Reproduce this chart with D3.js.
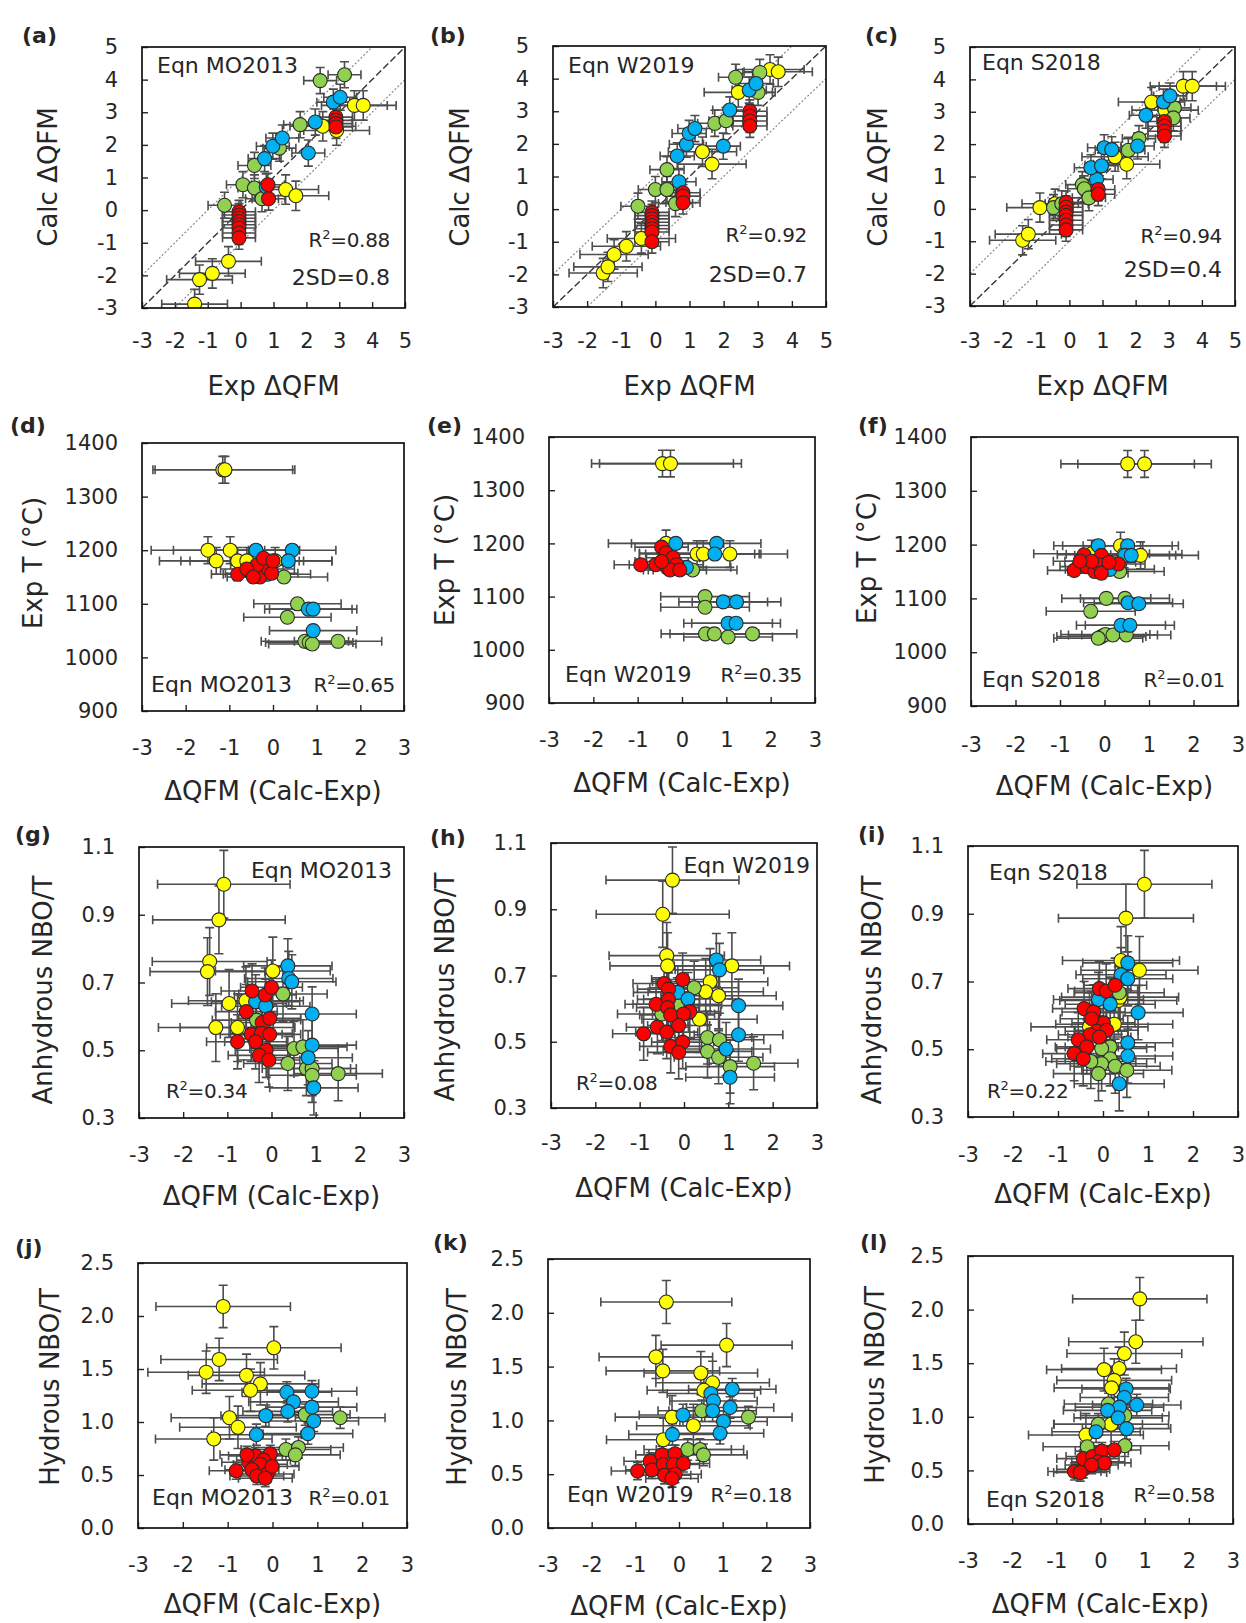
<!DOCTYPE html>
<html><head><meta charset="utf-8">
<script src="https://cdn.jsdelivr.net/npm/d3@7"></script>
<style>
body{margin:0;background:#fff}
svg text{font-family:"DejaVu Sans",sans-serif;fill:#262626}
</style>
</head><body>
<svg id="fig" width="1246" height="1623"></svg>
<script>
// ---------------- DATA ----------------
// each point: [x, y, optional x-error]
// groups: Y = yellow, G = green, B = blue, R = red
const A_Y = [[-1.4,-2.88],[-1.25,-2.13],[-0.86,-1.94],[-0.37,-1.57],[1.37,0.63],[1.68,0.44],[2.5,2.57],[2.92,2.44],[3.46,3.21],[3.73,3.21]];
const A_G = [[-0.49,0.15],[0.07,0.78],[0.42,0.68],[0.65,0.35],[0.42,1.37],[1.18,1.9],[1.81,2.62],[2.42,3.97],[3.16,4.15]];
const A_B = [[0.78,0.71],[0.73,1.58],[0.98,1.96],[1.27,2.21],[2.06,1.75],[2.27,2.7],[2.82,3.31],[3.03,3.46]];
const A_R = [[-0.05,-0.05],[-0.05,-0.15],[-0.05,-0.25],[-0.05,-0.35],[-0.05,-0.45],[-0.05,-0.55],[-0.05,-0.7],[-0.05,-0.85],[0.83,0.78],[0.85,0.35],[2.9,2.85],[2.9,2.75],[2.9,2.65],[2.9,2.55]];

const B_Y = [[-1.53,-1.96],[-1.39,-1.77],[-1.21,-1.39],[-0.85,-1.14],[-0.41,-0.9],[1.38,1.76],[1.66,1.38],[2.43,3.58],[3.36,4.28],[3.6,4.21]];
const B_G = [[-0.51,0.09],[0.0,0.6],[0.34,0.6],[0.34,1.21],[0.59,0.17],[1.74,2.63],[2.07,2.71],[2.35,4.04],[3.06,4.19],[3.01,3.58]];
const B_B = [[0.69,0.84],[0.64,1.63],[0.91,1.99],[0.99,2.32],[1.16,2.47],[1.99,1.93],[2.18,3.04],[2.75,3.65],[2.95,3.85]];
const B_R = [[-0.1,-0.1],[-0.1,-0.2],[-0.1,-0.3],[-0.1,-0.4],[-0.1,-0.5],[-0.1,-0.6],[-0.1,-0.7],[-0.1,-1.0],[0.81,0.5],[0.81,0.4],[0.81,0.2],[2.77,3.0],[2.77,2.85],[2.77,2.7],[2.77,2.55]];

const C_Y = [[-1.41,-0.97],[-1.24,-0.78],[-0.89,0.04],[-0.43,0.16],[1.38,1.61],[1.73,1.38],[2.48,3.3],[2.89,3.05],[3.44,3.79],[3.71,3.79]];
const C_G = [[-0.48,0.04],[-0.23,0.16],[0.39,0.75],[0.45,0.62],[0.59,0.34],[1.78,1.81],[2.1,2.17],[3.17,3.12],[3.14,2.81]];
const C_B = [[0.82,0.91],[0.65,1.27],[0.97,1.33],[1.05,1.89],[1.28,1.83],[2.06,1.94],[2.31,2.89],[2.84,3.3],[3.04,3.49]];
const C_R = [[-0.1,0.2],[-0.1,0.05],[-0.1,-0.1],[-0.1,-0.2],[-0.1,-0.35],[-0.1,-0.5],[-0.1,-0.65],[0.87,0.6],[0.87,0.45],[2.87,2.7],[2.87,2.55],[2.87,2.4],[2.87,2.25]];

const D_Y = [[-1.15,1350,1.6],[-1.1,1350,1.6],[-1.49,1200],[-0.98,1200],[-1.3,1180],[-0.81,1180],[-0.6,1180],[0.05,1180]];
const D_G = [[0.25,1150],[0.56,1100],[0.33,1075],[0.73,1030],[0.83,1028],[0.9,1025],[1.49,1030]];
const D_B = [[-0.39,1200],[0.44,1200],[0.35,1180],[-0.14,1155],[0.81,1090],[0.92,1090],[0.92,1050]];
const D_R = [[-0.81,1155],[-0.49,1157],[-0.3,1150],[-0.14,1180],[-0.11,1165],[-0.37,1172],[-0.6,1165],[-0.22,1185],[-0.03,1157],[-0.45,1150],[0.0,1180]];

const E_Y = [[-0.44,1350,1.6],[-0.26,1350,1.6],[-0.36,1200],[0.34,1180],[0.48,1180],[1.08,1180]];
const E_G = [[0.24,1150],[0.52,1100],[0.52,1080],[0.53,1030],[0.73,1030],[1.04,1024],[1.59,1030]];
const E_B = [[-0.14,1200],[0.78,1200],[0.74,1180],[0.1,1155],[0.93,1090],[1.23,1090],[1.04,1050],[1.22,1050]];
const E_R = [[-0.93,1160],[-0.59,1160],[-0.33,1154],[-0.46,1193],[-0.36,1182],[-0.2,1173],[-0.12,1160],[-0.27,1150],[-0.46,1166],[-0.05,1150]];

const F_Y = [[0.52,1350,1.5],[0.9,1350,1.5],[0.36,1198],[0.44,1182],[0.81,1180],[-0.29,1183]];
const F_G = [[0.34,1150],[0.04,1100],[0.46,1100],[-0.31,1076],[-0.07,1029],[0.02,1033],[0.19,1032],[0.49,1032],[-0.14,1026]];
const F_B = [[-0.14,1198],[0.52,1198],[0.46,1180],[0.6,1180],[0.12,1154],[0.53,1092],[0.77,1090],[0.37,1050],[0.57,1050]];
const F_R = [[-0.68,1152],[-0.46,1181],[-0.4,1159],[-0.22,1150],[-0.07,1180],[-0.11,1162],[-0.29,1169],[-0.55,1169],[0.31,1164],[-0.07,1147],[0.1,1167]];

const G_Y = [[-1.08,0.99,1.5],[-1.19,0.885,1.5],[-1.4,0.762],[-1.45,0.732],[0.03,0.734],[-0.96,0.638],[-0.58,0.646],[-1.26,0.567],[-0.77,0.567]];
const G_G = [[0.26,0.666],[0.51,0.505],[0.71,0.51],[0.37,0.461],[0.79,0.446],[0.92,0.446],[0.92,0.426],[1.51,0.431],[-0.34,0.589]];
const G_B = [[0.37,0.749],[0.39,0.712],[0.46,0.702],[-0.36,0.643],[-0.13,0.63],[0.92,0.607],[0.92,0.515],[0.83,0.478],[0.96,0.389]];
const G_R = [[-0.44,0.675],[-0.14,0.663],[0.0,0.686],[-0.57,0.614],[-0.21,0.582],[-0.04,0.594],[-0.46,0.547],[-0.23,0.55],[-0.04,0.547],[-0.77,0.525],[-0.36,0.525],[-0.12,0.5],[-0.28,0.485],[-0.06,0.471]];

const H_Y = [[-0.26,0.988,1.5],[-0.48,0.885,1.5],[-0.39,0.76],[-0.37,0.729],[1.08,0.729],[0.59,0.681],[0.49,0.651],[0.78,0.639],[0.35,0.568]];
const H_G = [[0.23,0.663],[-0.15,0.613],[-0.5,0.584],[0.53,0.513],[0.8,0.506],[0.53,0.471],[0.78,0.453],[1.04,0.425],[1.57,0.435]];
const H_B = [[0.73,0.747],[0.8,0.717],[-0.14,0.649],[0.09,0.629],[1.23,0.609],[1.23,0.521],[0.95,0.478],[1.04,0.393]];
const H_R = [[-0.91,0.524],[-0.63,0.613],[-0.45,0.676],[-0.35,0.659],[-0.35,0.628],[-0.37,0.603],[-0.3,0.581],[-0.03,0.688],[0.13,0.591],[-0.01,0.584],[-0.6,0.544],[-0.39,0.529],[-0.12,0.549],[-0.3,0.486],[-0.03,0.499],[-0.12,0.468]];

const I_Y = [[0.92,0.987,1.5],[0.51,0.887,1.5],[0.4,0.762],[0.81,0.733],[0.34,0.644],[0.38,0.654],[0.25,0.574],[-0.3,0.566]];
const I_G = [[0.36,0.667],[0.16,0.507],[-0.03,0.502],[0.16,0.472],[-0.03,0.457],[0.27,0.45],[0.53,0.438],[-0.1,0.428],[-0.27,0.464]];
const I_B = [[0.55,0.755],[0.4,0.72],[0.55,0.708],[-0.1,0.647],[0.16,0.633],[0.78,0.608],[0.55,0.519],[0.55,0.48],[0.36,0.398]];
const I_R = [[-0.08,0.679],[0.07,0.672],[0.27,0.689],[-0.42,0.62],[-0.21,0.61],[0.01,0.578],[-0.25,0.59],[-0.14,0.553],[0.08,0.556],[-0.29,0.543],[-0.55,0.528],[-0.08,0.536],[-0.36,0.507],[-0.64,0.487],[-0.44,0.472]];

const J_Y = [[-1.1,2.09,1.5],[0.03,1.7,1.5],[-1.19,1.59],[-1.48,1.47],[-0.58,1.44],[-0.27,1.36],[-0.49,1.3],[-0.96,1.04],[-0.77,0.95],[-1.31,0.84]];
const J_G = [[0.73,1.07],[1.51,1.04],[0.3,0.74],[0.58,0.76],[0.51,0.69]];
const J_B = [[0.32,1.28],[0.47,1.19],[0.88,1.29],[0.88,1.14],[0.34,1.1],[0.92,1.01],[-0.15,1.06],[0.79,0.89],[-0.36,0.88]];
const J_R = [[-0.81,0.54],[-0.53,0.62],[-0.38,0.68],[-0.05,0.7],[-0.2,0.64],[-0.27,0.6],[-0.46,0.55],[-0.12,0.51],[-0.35,0.49],[-0.01,0.58],[-0.16,0.47],[-0.57,0.69]];

const K_Y = [[-0.29,2.1,1.5],[1.09,1.7,1.5],[-0.53,1.59],[-0.37,1.46],[0.5,1.44],[0.77,1.35],[0.57,1.28],[-0.16,1.03],[0.33,0.95],[-0.36,0.82]];
const K_G = [[0.52,1.09],[1.59,1.03],[0.2,0.73],[0.48,0.73],[0.56,0.68]];
const K_B = [[0.73,1.25],[1.22,1.29],[0.79,1.18],[0.77,1.09],[1.17,1.12],[0.09,1.05],[1.02,0.99],[0.94,0.88],[-0.15,0.87]];
const K_R = [[-0.95,0.53],[-0.66,0.62],[-0.62,0.54],[-0.39,0.68],[-0.09,0.69],[-0.36,0.59],[-0.13,0.59],[0.1,0.6],[-0.33,0.49],[-0.09,0.5],[-0.16,0.46]];

const L_Y = [[0.89,2.1,1.52],[0.8,1.7,1.52],[0.54,1.59],[0.08,1.44],[0.42,1.45],[0.31,1.34],[0.25,1.27],[0.24,0.93],[-0.33,0.83]];
const L_G = [[0.18,1.12],[-0.05,0.93],[0.55,1.01],[-0.3,0.72],[0.55,0.73]];
const L_B = [[0.58,1.26],[0.54,1.18],[0.82,1.11],[0.43,1.09],[0.16,1.06],[0.4,0.99],[0.59,0.89],[-0.1,0.86]];
const L_R = [[-0.59,0.49],[-0.39,0.51],[-0.39,0.61],[-0.18,0.63],[0.03,0.68],[0.31,0.69],[-0.05,0.58],[0.09,0.57],[-0.2,0.55],[-0.46,0.48]];

// default [x-error, y-error] per group (Y, G, B, R) for each row of panels
const ERR_ROW1 = [[1.0,0.45],[0.5,0.4],[0.5,0.4],[0.5,0.35]];
const ERR_ROW2 = [[1.3,25],[1.0,10],[1.0,10],[0.6,10]];
const ERR_ROW3 = [[1.3,0.1],[1.0,0.08],[1.0,0.08],[0.7,0.08]];
const ERR_ROW4 = [[1.3,0.2],[1.0,0.1],[1.0,0.1],[0.6,0.08]];

// tick labels
const TICKS_QFM8 = [-3,-2,-1,0,1,2,3,4,5];
const TICKS_QFM6 = [-3,-2,-1,0,1,2,3];
const TICKS_T = [900,1000,1100,1200,1300,1400];
const TICKS_NBO_A = [0.3,0.5,0.7,0.9,1.1];
const TICKS_NBO_H = [0.0,0.5,1.0,1.5,2.0,2.5];

const STATS_R2 = ['0.88','0.92','0.94','0.65','0.35','0.01','0.34','0.08','0.22','0.01','0.18','0.58'];
const STATS_2SD = ['0.8','0.7','0.4'];
const EQNS = ['MO2013','W2019','S2018'];

// ---------------- LAYOUT ----------------
const GROUP_FILL = ['#FFFF00','#92D050','#00B0F0','#FF0000'];
const fmtInt = v => String(v);
const fmt1 = v => v.toFixed(1);

const ROWS = [
  {xDom:[-3,5], yDom:[-3,5], xT:TICKS_QFM8, yT:TICKS_QFM8, fy:fmtInt, xTitle:'Exp ΔQFM', yTitle:'Calc ΔQFM', ref:true, err:ERR_ROW1},
  {xDom:[-3,3], yDom:[900,1400], xT:TICKS_QFM6, yT:TICKS_T, fy:fmtInt, xTitle:'ΔQFM (Calc-Exp)', yTitle:'Exp T (°C)', err:ERR_ROW2},
  {xDom:[-3,3], yDom:[0.3,1.1], xT:TICKS_QFM6, yT:TICKS_NBO_A, fy:fmt1, xTitle:'ΔQFM (Calc-Exp)', yTitle:'Anhydrous NBO/T', err:ERR_ROW3},
  {xDom:[-3,3], yDom:[0,2.5], xT:TICKS_QFM6, yT:TICKS_NBO_H, fy:fmt1, xTitle:'ΔQFM (Calc-Exp)', yTitle:'Hydrous NBO/T', err:ERR_ROW4}
];

const PANELS = [
 {id:'a', row:0, data:[A_Y,A_G,A_B,A_R], box:[142,47,405,308], lab:[22,43], yt:[48,177], xtY:395, tkY:348,
  notes:[{t:'Eqn '+EQNS[0],x:157,y:73,a:'start'},{r2:STATS_R2[0],x:390,y:247,a:'end'},{t:'2SD='+STATS_2SD[0],x:390,y:285,a:'end'}]},
 {id:'b', row:0, data:[B_Y,B_G,B_B,B_R], box:[553,46,826,307], lab:[430,43], yt:[460,177], xtY:395, tkY:348,
  notes:[{t:'Eqn '+EQNS[1],x:568,y:73,a:'start'},{r2:STATS_R2[1],x:807,y:242,a:'end'},{t:'2SD='+STATS_2SD[1],x:807,y:282,a:'end'}]},
 {id:'c', row:0, data:[C_Y,C_G,C_B,C_R], box:[970,47,1235,306], lab:[865,43], yt:[878,177], xtY:395, tkY:348,
  notes:[{t:'Eqn '+EQNS[2],x:982,y:70,a:'start'},{r2:STATS_R2[2],x:1222,y:243,a:'end'},{t:'2SD='+STATS_2SD[2],x:1222,y:277,a:'end'}]},
 {id:'d', row:1, data:[D_Y,D_G,D_B,D_R], box:[142,443,404,711], lab:[10,433], yt:[33,563], xtY:800, tkY:755,
  notes:[{t:'Eqn '+EQNS[0],x:151,y:692,a:'start'},{r2:STATS_R2[3],x:395,y:692,a:'end'}]},
 {id:'e', row:1, data:[E_Y,E_G,E_B,E_R], box:[549,437,815,703], lab:[427,433], yt:[445,560], xtY:792, tkY:747,
  notes:[{t:'Eqn '+EQNS[1],x:565,y:682,a:'start'},{r2:STATS_R2[4],x:802,y:682,a:'end'}]},
 {id:'f', row:1, data:[F_Y,F_G,F_B,F_R], box:[971,437,1238,706], lab:[858,433], yt:[867,558], xtY:795, tkY:752,
  notes:[{t:'Eqn '+EQNS[2],x:982,y:687,a:'start'},{r2:STATS_R2[5],x:1225,y:687,a:'end'}]},
 {id:'g', row:2, data:[G_Y,G_G,G_B,G_R], box:[139,847,404,1118], lab:[15,842], yt:[43,990], xtY:1205, tkY:1162,
  notes:[{t:'Eqn '+EQNS[0],x:392,y:878,a:'end'},{r2:STATS_R2[6],x:166,y:1098,a:'start'}]},
 {id:'h', row:2, data:[H_Y,H_G,H_B,H_R], box:[551,843,817,1108], lab:[430,845], yt:[445,987], xtY:1197, tkY:1150,
  notes:[{t:'Eqn '+EQNS[1],x:810,y:873,a:'end'},{r2:STATS_R2[7],x:576,y:1090,a:'start'}]},
 {id:'i', row:2, data:[I_Y,I_G,I_B,I_R], box:[968,846,1238,1117], lab:[858,842], yt:[872,990], xtY:1203, tkY:1162,
  notes:[{t:'Eqn '+EQNS[2],x:989,y:880,a:'start'},{r2:STATS_R2[8],x:987,y:1098,a:'start'}]},
 {id:'j', row:3, data:[J_Y,J_G,J_B,J_R], box:[138,1263,407,1528], lab:[15,1255], yt:[50,1387], xtY:1613, tkY:1572,
  notes:[{t:'Eqn '+EQNS[0],x:152,y:1505,a:'start'},{r2:STATS_R2[9],x:390,y:1505,a:'end'}]},
 {id:'k', row:3, data:[K_Y,K_G,K_B,K_R], box:[548,1259,810,1528], lab:[433,1250], yt:[457,1387], xtY:1615, tkY:1572,
  notes:[{t:'Eqn '+EQNS[1],x:567,y:1502,a:'start'},{r2:STATS_R2[10],x:792,y:1502,a:'end'}]},
 {id:'l', row:3, data:[L_Y,L_G,L_B,L_R], box:[968,1256,1233,1524], lab:[860,1250], yt:[875,1385], xtY:1613, tkY:1568,
  notes:[{t:'Eqn '+EQNS[2],x:986,y:1507,a:'start'},{r2:STATS_R2[11],x:1215,y:1502,a:'end'}]}
];

// ---------------- DRAW ----------------
const svg = d3.select('#fig');
const defs = svg.append('defs');
const TICK_FS = 21, TITLE_FS = 26, NOTE_FS = 22, R2_FS = 20;

PANELS.forEach(p => {
  const R = ROWS[p.row];
  const [x0,y0,x1,y1] = p.box;
  const x = d3.scaleLinear().domain(R.xDom).range([x0,x1]);
  const y = d3.scaleLinear().domain(R.yDom).range([y1,y0]);
  const g = svg.append('g');
  const cid = 'clip-'+p.id;
  defs.append('clipPath').attr('id',cid).append('rect')
    .attr('x',x0).attr('y',y0).attr('width',x1-x0).attr('height',y1-y0);

  // axes (inside ticks)
  const ax = g.append('g').attr('transform',`translate(0,${y1})`)
    .call(d3.axisBottom(x).tickValues(R.xT).tickFormat(fmtInt).tickSizeInner(-6).tickSizeOuter(0)
      .tickPadding(p.tkY - y1 - 0.71*TICK_FS));
  const ay = g.append('g').attr('transform',`translate(${x0},0)`)
    .call(d3.axisLeft(y).tickValues(R.yT).tickFormat(R.fy).tickSizeInner(-6).tickSizeOuter(0).tickPadding(24));
  [ax,ay].forEach(a => {
    a.select('.domain').remove();
    a.selectAll('line').attr('stroke','#222').attr('stroke-width',1.4);
    a.selectAll('text').attr('font-size',TICK_FS).attr('font-family','"DejaVu Sans",sans-serif').attr('fill','#262626');
  });

  const plot = g.append('g').attr('clip-path',`url(#${cid})`);

  // reference lines (1:1 and ±1)
  if (R.ref) {
    const lines = [[0,'#333','7,3',1.4],[1,'#888','2,2',1.2],[-1,'#888','2,2',1.2]];
    lines.forEach(([off,col,dash,w]) => {
      plot.append('line')
        .attr('x1',x(R.xDom[0])).attr('y1',y(R.xDom[0]+off))
        .attr('x2',x(R.xDom[1])).attr('y2',y(R.xDom[1]+off))
        .attr('stroke',col).attr('stroke-dasharray',dash).attr('stroke-width',w);
    });
  }

  // error bars
  const eb = plot.append('g').attr('stroke','#4d4d4d').attr('stroke-width',1.6).attr('fill','none');
  const cap = 4.5;
  p.data.forEach((arr,gi) => {
    const [dex,dey] = R.err[gi];
    arr.forEach(d => {
      const ex = d[2] !== undefined ? d[2] : dex;
      const cx = x(d[0]), cy = y(d[1]);
      const xl = x(d[0]-ex), xr = x(d[0]+ex);
      const yt = y(d[1]+dey), yb = y(d[1]-dey);
      eb.append('path').attr('d',
        `M${xl},${cy}H${xr}M${xl},${cy-cap}V${cy+cap}M${xr},${cy-cap}V${cy+cap}` +
        `M${cx},${yt}V${yb}M${cx-cap},${yt}H${cx+cap}M${cx-cap},${yb}H${cx+cap}`);
    });
  });

  // markers
  p.data.forEach((arr,gi) => {
    plot.append('g').selectAll('circle').data(arr).join('circle')
      .attr('cx',d => x(d[0])).attr('cy',d => y(d[1])).attr('r',7)
      .attr('fill',GROUP_FILL[gi]).attr('stroke','#2b2b2b').attr('stroke-width',1.1);
  });

  // frame
  g.append('rect').attr('x',x0).attr('y',y0).attr('width',x1-x0).attr('height',y1-y0)
    .attr('fill','none').attr('stroke','#111').attr('stroke-width',1.7);

  // annotations
  p.notes.forEach(n => {
    const t = g.append('text').attr('x',n.x).attr('y',n.y).attr('text-anchor',n.a);
    if (n.r2 !== undefined) {
      t.attr('font-size',R2_FS).attr('letter-spacing',-0.3);
      t.append('tspan').text('R');
      t.append('tspan').attr('dy',-8).attr('font-size',13).text('2');
      t.append('tspan').attr('dy',8).text('='+n.r2);
    } else {
      t.attr('font-size',NOTE_FS).text(n.t);
    }
  });

  // titles
  g.append('text').attr('x',(x0+x1)/2).attr('y',p.xtY).attr('text-anchor','middle')
    .attr('font-size',TITLE_FS).text(R.xTitle);
  g.append('text').attr('transform',`translate(${p.yt[0]},${p.yt[1]}) rotate(-90)`)
    .attr('text-anchor','middle').attr('dy','0.35em').attr('font-size',TITLE_FS).text(R.yTitle);

  // panel label
  g.append('text').attr('x',p.lab[0]).attr('y',p.lab[1]).attr('font-size',22)
    .attr('font-weight','bold').text('('+p.id+')');
});
</script>
</body></html>
